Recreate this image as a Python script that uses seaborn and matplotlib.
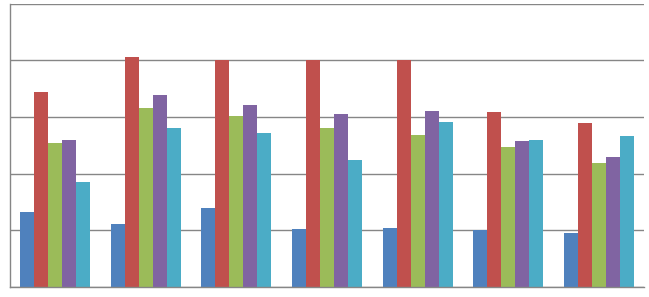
import pandas as pd
import matplotlib.pyplot as plt
import seaborn as sns

# 分组与系列（图中无文字标签，仅用占位名称）
groups = ['G1', 'G2', 'G3', 'G4', 'G5', 'G6', 'G7']
series = ['S1', 'S2', 'S3', 'S4', 'S5']
s1 = [1.32, 1.11, 1.39, 1.03, 1.05, 1.01, 0.95]
s2 = [3.45, 4.06, 4.00, 4.00, 4.00, 3.08, 2.90]
s3 = [2.54, 3.16, 3.02, 2.80, 2.68, 2.47, 2.19]
s4 = [2.60, 3.38, 3.22, 3.06, 3.10, 2.57, 2.30]
s5 = [1.86, 2.81, 2.72, 2.24, 2.92, 2.60, 2.66]
colors = ['#4F81BD', '#C0504D', '#9BBB59', '#8064A2', '#4BACC6']

rows = []
for name, vals in zip(series, [s1, s2, s3, s4, s5]):
    for g, v in zip(groups, vals):
        rows.append({'group': g, 'series': name, 'value': v})
df = pd.DataFrame(rows)

sns.set_style('white')
fig = plt.figure(figsize=(6.49, 2.97), dpi=100)
ax = fig.add_axes([10 / 649, 10 / 297, 634 / 649, 283.3 / 297])

sns.barplot(data=df, x='group', y='value', hue='series', palette=colors,
            width=0.773, gap=0, saturation=1, errorbar=None, legend=False,
            linewidth=0, ax=ax)

ax.set_xlim(-0.5, 6.5)
ax.set_ylim(0, 5)
ax.set_yticks(range(6))
ax.set_xticks([i - 0.5 for i in range(8)])
ax.set_xticklabels([])
ax.set_yticklabels([])
ax.set_xlabel('')
ax.set_ylabel('')

grid_c = '#868686'
ax.grid(axis='y', color=grid_c, linewidth=1.0)
ax.set_axisbelow(True)
for side in ['top', 'right']:
    ax.spines[side].set_visible(False)
for side in ['left', 'bottom']:
    ax.spines[side].set_color(grid_c)
    ax.spines[side].set_linewidth(1.0)
ax.tick_params(axis='both', direction='out', length=5, width=1.0, color=grid_c)

plt.savefig('out.png', dpi=100)
